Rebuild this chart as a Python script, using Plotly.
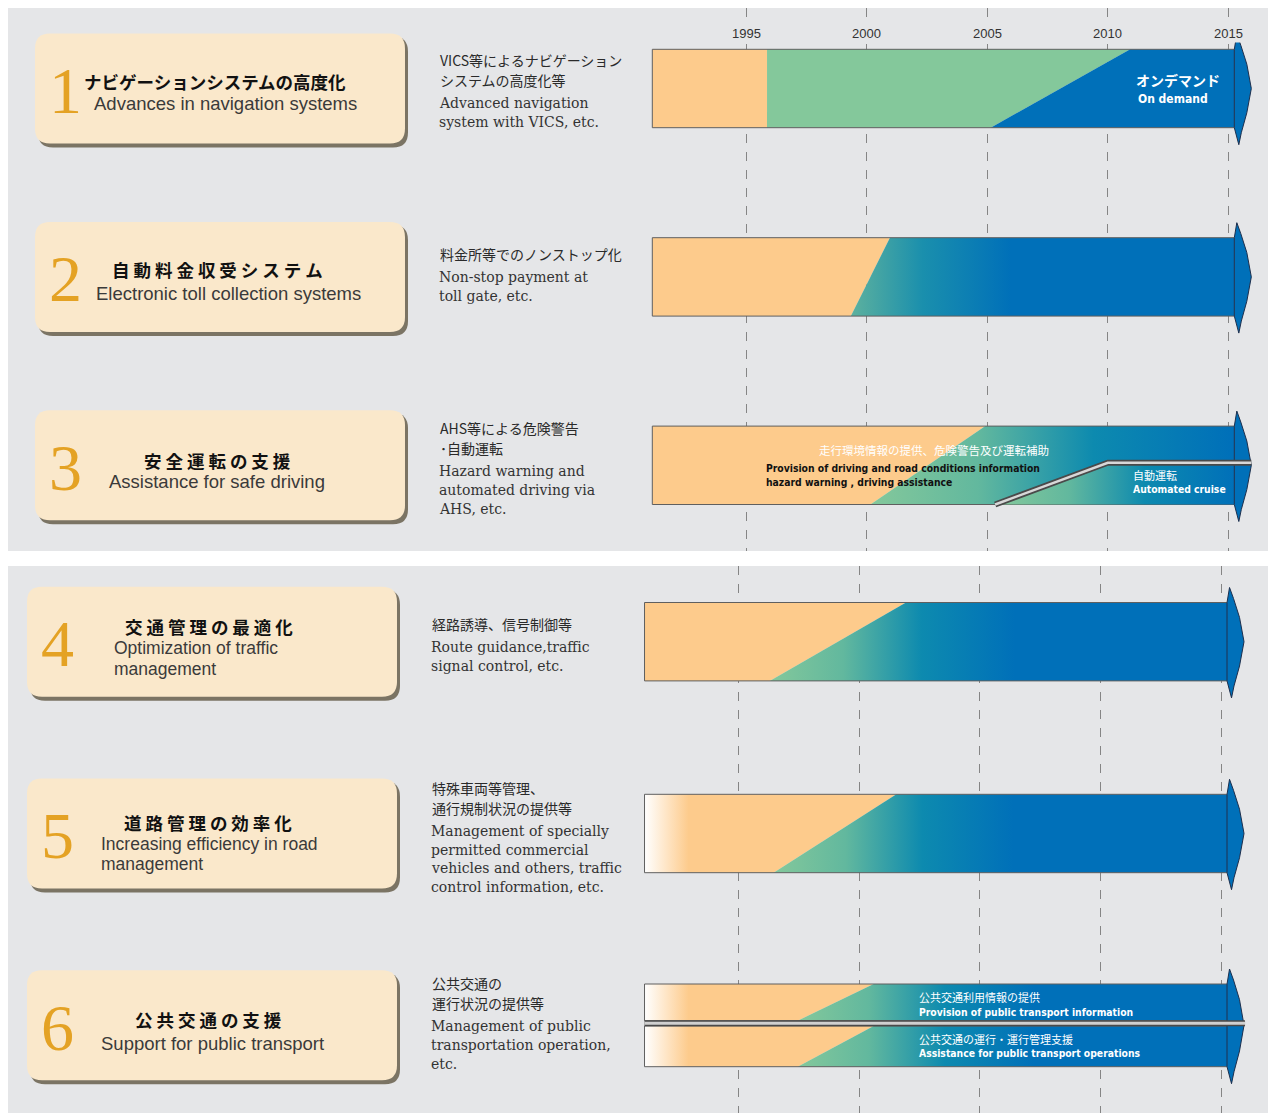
import plotly.graph_objects as go

# the page body has an 8 px margin: the figure is sized and positioned to fit inside it
OX, OY = 8, 8
W, H = 1260, 1105

# ---------------- data ----------------
tick_years = [1995, 2000, 2005, 2010, 2015]
row_numbers = ["1", "2", "3", "4", "5", "6"]
titles_ja = ["ナビゲーションシステムの高度化", "自 動 料 金 収 受 シ ス テ ム", "安 全 運 転 の 支 援",
             "交 通 管 理 の 最 適 化", "道 路 管 理 の 効 率 化", "公 共 交 通 の 支 援"]
titles_en = [["Advances in navigation systems"], ["Electronic toll collection systems"],
             ["Assistance for safe driving"], ["Optimization of traffic", "management"],
             ["Increasing efficiency in road", "management"], ["Support for public transport"]]
desc_ja = [["VICS等によるナビゲーション", "システムの高度化等"], ["料金所等でのノンストップ化"],
           ["AHS等による危険警告", "･自動運転"], ["経路誘導、信号制御等"],
           ["特殊車両等管理、", "通行規制状況の提供等"], ["公共交通の", "運行状況の提供等"]]
desc_en = [["Advanced navigation", "system with VICS, etc."], ["Non-stop payment at", "toll gate, etc."],
           ["Hazard warning and", "automated driving via", "AHS, etc."],
           ["Route guidance,traffic", "signal control, etc."],
           ["Management of specially", "permitted commercial", "vehicles and others, traffic",
            "control information, etc."],
           ["Management of public", "transportation operation,", "etc."]]

bar_start_year = 1991.1
arrow_body_end_year = 2015.25
# end of the first (orange) phase, read at the top edge and the bottom edge of each bar
phase1_end_top = [1995.86, 2000.96, 2004.92, 2001.94, 2001.54, 2000.6]
phase1_end_bottom = [1995.86, 1999.34, 2000.15, 1996.29, 1996.45, 1997.45]
# row 1: on-demand phase
ondemand_top_year = 2010.93
ondemand_bottom_year = 2005.14
# row 3: automated cruise phase
auto_bottom_year = 2005.45
auto_top_year = 2010.0

ondemand_label = ["オンデマンド", "On demand"]
row3_upper_label = ["走行環境情報の提供、危険警告及び運転補助",
                    "Provision of driving and road conditions information",
                    "hazard warning , driving assistance"]
row3_lower_label = ["自動運転", "Automated cruise"]
row6_upper_label = ["公共交通利用情報の提供", "Provision of public transport information"]
row6_lower_label = ["公共交通の運行・運行管理支援", "Assistance for public transport operations"]

# ---------------- style / layout ----------------
PANEL_BG = "#e5e6e8"
ORANGE = "#fdcb8c"
GREEN = "#84c89b"
BLUE = "#0070b9"
OUTLINE = "#5f5f5f"
BOX = "#fae8cb"
SHADOW = "#7b7464"
NUM_COLOR = "#e4a224"
JA = "Noto Sans CJK JP"
SANS = "Liberation Sans, Arial, sans-serif"
SERIF = "DejaVu Serif, serif"
NARROW = "Liberation Sans Narrow, DejaVu Sans Condensed, Arial Narrow, sans-serif"

PANELS = [
    dict(px1995=746.3, ppy=24.1, rc0=88.5, sp=188.4, ytop=5, ybot=551, box_x0=35, desc_x=438, xa="x", ya="y"),
    dict(px1995=738.6, ppy=24.12, rc0=641.7, sp=191.8, ytop=566, ybot=1113, box_x0=27, desc_x=430, xa="x2", ya="y2"),
]

# per-row text layout (pixel offsets)
title_anchor = ["left", "center", "center", "center", "center", "center"]
title_dx = [47, 182, 182, 182, 181, 181]
title_dy = [-7, -7.5, -5, -15, -11, -6]
en_anchor = ["left", "center", "center", "left", "left", "center"]
en_dx = [57, 193, 182, 85, 72, 185]
en_dy = [14.5, 16.5, 16, 6.3, 10, 18]
desc_dy = [-28.5, -22.5, -37, -17.7, -45.7, -42.3]
grad_span_px = [0, 160, 360, 245, 240, 237]
orange_fade = [False, False, False, False, True, True]

GRAD = [[0, "#84c89b"], [0.3, "#62b89e"], [0.62, "#0d8aaf"], [1, BLUE]]
GRAD_ROW2 = [[0, "#5db19e"], [0.45, "#1a8fad"], [1, BLUE]]

fig = go.Figure()


def px2paper(xp, yp):
    return (xp - OX) / W, 1 - (yp - OY) / H


def ann(xp, yp, text, size, color, family, anchor="left", **kw):
    x, y = px2paper(xp, yp)
    fig.add_annotation(x=x, y=y, xref="paper", yref="paper", text=text, showarrow=False,
                       xanchor=anchor, yanchor="middle",
                       font=dict(size=size, color=color, family=family), **kw)


def rrect_path(x0, y0, x1, y1, r):
    def P(x, y):
        a, b = px2paper(x, y)
        return f"{a:.6f},{b:.6f}"
    return (f"M {P(x0 + r, y0)} L {P(x1 - r, y0)} Q {P(x1, y0)} {P(x1, y0 + r)} "
            f"L {P(x1, y1 - r)} Q {P(x1, y1)} {P(x1 - r, y1)} L {P(x0 + r, y1)} "
            f"Q {P(x0, y1)} {P(x0, y1 - r)} L {P(x0, y0 + r)} Q {P(x0, y0)} {P(x0 + r, y0)} Z")


# panels
for pn in PANELS:
    a0, b0 = px2paper(6, pn["ytop"])
    a1, b1 = px2paper(1268, pn["ybot"])
    fig.add_shape(type="rect", xref="paper", yref="paper", x0=a0, x1=a1, y0=b1, y1=b0,
                  fillcolor=PANEL_BG, line=dict(width=0), layer="below")


def poly(pn, xs, ys, **kw):
    fig.add_trace(go.Scatter(x=list(xs) + [xs[0]], y=list(ys) + [ys[0]], mode="lines", fill="toself",
                             line=dict(width=0), xaxis=pn["xa"], yaxis=pn["ya"], hoverinfo="skip", **kw))


def line(pn, xs, ys, color, width):
    fig.add_trace(go.Scatter(x=xs, y=ys, mode="lines", line=dict(color=color, width=width),
                             xaxis=pn["xa"], yaxis=pn["ya"], hoverinfo="skip"))


for i in range(6):
    pn = PANELS[i // 3]
    r = i % 3
    rc = pn["rc0"] + r * pn["sp"]
    hy = lambda v: v / pn["sp"]
    hx = lambda v: v / pn["ppy"]
    S, E = bar_start_year, arrow_body_end_year

    # left rounded box with shadow
    bx = pn["box_x0"]
    fig.add_shape(type="path", xref="paper", yref="paper", path=rrect_path(bx + 3, rc - 52, bx + 373, rc + 59, 15),
                  fillcolor=SHADOW, line=dict(width=0), layer="below")
    fig.add_shape(type="path", xref="paper", yref="paper", path=rrect_path(bx, rc - 55, bx + 370, rc + 55, 15),
                  fillcolor=BOX, line=dict(width=0), layer="below")
    ann(bx + 30, rc + 2, row_numbers[i], 66, NUM_COLOR, "Liberation Serif, serif", anchor="center")
    ann(bx + title_dx[i], rc + title_dy[i], f"<b>{titles_ja[i]}</b>", 17.5, "#111", JA, anchor=title_anchor[i])
    nen = len(titles_en[i])
    en_size = 18.5 if nen == 1 else 17.5
    for k, t in enumerate(titles_en[i]):
        ann(bx + en_dx[i], rc + en_dy[i] + 20.5 * k, t, en_size, "#3a3a3a", SANS, anchor=en_anchor[i])

    # description
    y0 = rc + desc_dy[i]
    for k, t in enumerate(desc_ja[i]):
        ann(pn["desc_x"], y0 + 20 * k, t, 14, "#2a2a2a", JA)
    y1 = y0 + 20 * (len(desc_ja[i]) - 1) + 23
    for k, t in enumerate(desc_en[i]):
        ann(pn["desc_x"] - 1, y1 + 18.8 * k, t, 14, "#333", SERIF)

    # bars
    if i == 5:
        subs = [(r - hy(41.3), r - hy(4.6)), (r + hy(0.7), r + hy(41.4))]
        t_all, b_all, hh_t, hh_b = r - hy(41.3), r + hy(41.4), 41.3, 41.4
    else:
        subs = [(r - hy(39.2), r + hy(39.2))]
        t_all, b_all, hh_t, hh_b = r - hy(39.2), r + hy(39.2), 39.2, 39.2

    dt, db = phase1_end_top[i], phase1_end_bottom[i]
    grad = GRAD_ROW2 if i == 1 else GRAD
    for (t, b) in subs:
        okw = dict(fillcolor=ORANGE)
        if orange_fade[i]:
            okw = dict(fillgradient=dict(type="horizontal", colorscale=[[0, "#ffffff"], [1, ORANGE]],
                                         start=S, stop=S + hx(44)))
        poly(pn, [S, dt, db, S], [t, t, b, b], **okw)
        if i == 0:
            poly(pn, [dt, ondemand_top_year, ondemand_bottom_year, db], [t, t, b, b], fillcolor=GREEN)
            poly(pn, [ondemand_bottom_year, ondemand_top_year, E, E], [b, t, t, b], fillcolor=BLUE)
        else:
            poly(pn, [db, dt, E, E], [b, t, t, b],
                 fillgradient=dict(type="horizontal", colorscale=grad, start=db, stop=db + hx(grad_span_px[i])))
        line(pn, [E, S, S, E], [t, t, b, b], OUTLINE, 1)

    if i == 2:
        ysep = r - hy(2.5)
        poly(pn, [auto_bottom_year, auto_top_year, E, E], [b_all, ysep, ysep, b_all],
             fillgradient=dict(type="horizontal", colorscale=GRAD, start=auto_bottom_year, stop=E))

    # arrow head
    ah = [(0, -hh_t), (2.5, -hh_t - 15), (6.5, -hh_t - 4), (12.5, -0.62 * hh_t), (17, 0),
          (12.5, 0.62 * hh_b), (7, hh_b + 5), (4.5, hh_b + 17), (0, hh_b)]
    xs = [E + hx(a) for a, _ in ah]
    ys = [r + hy(b) for _, b in ah]
    fig.add_trace(go.Scatter(x=xs + [xs[0]], y=ys + [ys[0]], mode="lines", fill="toself", fillcolor=BLUE,
                             line=dict(color="#1d2f4d", width=1), xaxis=pn["xa"], yaxis=pn["ya"],
                             hoverinfo="skip"))

    if i == 2:
        ysep = r - hy(2.5)
        sx = [auto_bottom_year - hx(3), auto_top_year, E + hx(17)]
        sy = [b_all, ysep, ysep]
        line(pn, sx, sy, "#4a4a4a", 6)
        line(pn, sx, sy, "#d8d8d8", 2.5)
    if i == 5:
        ysep = r - hy(2)
        line(pn, [S, E + hx(18)], [ysep, ysep], "#4a4a4a", 6)
        line(pn, [S, E + hx(18)], [ysep, ysep], "#d0d0d0", 3)

# in-bar labels
ann(1178, 80, f"<b>{ondemand_label[0]}</b>", 14, "white", JA, anchor="center")
ann(1136, 99, f"<b>{ondemand_label[1]}</b>", 12, "white", NARROW)
ann(934, 450, row3_upper_label[0], 11.5, "white", JA, anchor="center")
ann(764, 468, f"<b>{row3_upper_label[1]}</b>", 10.3, "#111", NARROW)
ann(764, 481.5, f"<b>{row3_upper_label[2]}</b>", 10.3, "#111", NARROW)
ann(1131, 475, row3_lower_label[0], 11, "white", JA)
ann(1131, 489, f"<b>{row3_lower_label[1]}</b>", 10.3, "white", NARROW)
ann(917, 997, row6_upper_label[0], 11, "white", JA)
ann(917, 1011.5, f"<b>{row6_upper_label[1]}</b>", 10.3, "white", NARROW)
ann(917, 1039, row6_lower_label[0], 11, "white", JA)
ann(917, 1052.7, f"<b>{row6_lower_label[1]}</b>", 10.3, "white", NARROW)

# year labels on the top time axis
for yr in tick_years:
    fig.add_annotation(x=yr, xref="x", y=px2paper(0, 33)[1], yref="paper", text=str(yr), showarrow=False,
                       xanchor="center", yanchor="middle", bgcolor=PANEL_BG, borderpad=1,
                       font=dict(size=13, color="#333", family=SANS))

# axes (domain [0, 1] spans window pixels OX .. OX + W)
for k, pn in enumerate(PANELS):
    sfx = "" if k == 0 else "2"
    xr = [1995 - (pn["px1995"] - OX) / pn["ppy"], 1995 + (OX + W - pn["px1995"]) / pn["ppy"]]
    yr_ = [(pn["ybot"] - pn["rc0"]) / pn["sp"], (pn["ytop"] - pn["rc0"]) / pn["sp"]]
    d0 = max(0.0, px2paper(0, pn["ybot"])[1])
    d1 = min(1.0, px2paper(0, pn["ytop"])[1])
    full0, full1 = px2paper(0, pn["ybot"])[1], px2paper(0, pn["ytop"])[1]
    yspan = yr_[0] - yr_[1]
    yr_c = [yr_[0] - (d0 - full0) / (full1 - full0) * yspan, yr_[1] + (full1 - d1) / (full1 - full0) * yspan]
    fig.layout["xaxis" + sfx] = dict(domain=[0, 1], range=xr, tickvals=tick_years, showticklabels=False,
                                     showgrid=True, gridcolor="#858585", griddash="dash", gridwidth=1,
                                     zeroline=False, showline=False, ticks="", anchor="y" + sfx, fixedrange=True)
    fig.layout["yaxis" + sfx] = dict(domain=[d0, d1], range=yr_c,
                                     showgrid=False, zeroline=False, showticklabels=False, showline=False,
                                     anchor="x" + sfx, fixedrange=True)

fig.update_layout(width=W, height=H, margin=dict(l=0, r=0, t=0, b=0), showlegend=False,
                  paper_bgcolor="white", plot_bgcolor="rgba(0,0,0,0)")

fig.write_html("out.html")
